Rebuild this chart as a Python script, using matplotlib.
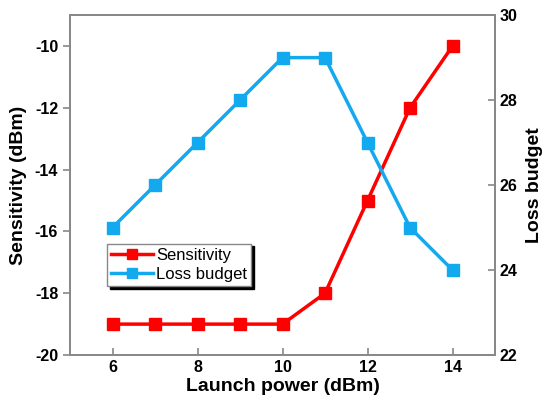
import matplotlib
matplotlib.use("Agg")
import matplotlib.pyplot as plt

plt.rcParams["font.family"] = ["Liberation Sans", "DejaVu Sans"]
plt.rcParams["axes.unicode_minus"] = False

# data
launch_power = [6, 7, 8, 9, 10, 11, 12, 13, 14]
sensitivity = [-19, -19, -19, -19, -19, -18, -15, -12, -10]
loss_budget = [25, 26, 27, 28, 29, 29, 27, 25, 24]

RED = "#ff0000"
BLUE = "#12a9ef"
GREY = "#888888"

fig = plt.figure(figsize=(5.47, 4.09), dpi=100)
ax = fig.add_axes([0.128, 0.132, 0.777, 0.831])
ax2 = ax.twinx()

l1, = ax.plot(launch_power, sensitivity, color=RED, lw=2.5, marker="s",
              ms=8, label="Sensitivity")
l2, = ax2.plot(launch_power, loss_budget, color=BLUE, lw=2.5, marker="s",
               ms=8, label="Loss budget")

ax.set_xlim(5, 15)
ax.set_ylim(-20, -9)
ax2.set_ylim(22, 30)
ax.set_xticks([6, 8, 10, 12, 14])
ax.set_yticks([-20, -18, -16, -14, -12, -10])
ax2.set_yticks([22, 24, 26, 28, 30])

for a in (ax, ax2):
    for s in a.spines.values():
        s.set_color(GREY)
        s.set_linewidth(1.3)

ax.tick_params(axis="y", direction="out", color=GREY, length=5, width=1.2)
ax.tick_params(axis="x", direction="in", color=GREY, length=5, width=1.2)
ax2.tick_params(axis="y", direction="in", color=GREY, length=5, width=1.2)
for a in (ax, ax2):
    for lab in a.get_xticklabels() + a.get_yticklabels():
        lab.set_fontweight("bold")
        lab.set_fontsize(11.5)

ax.set_xlabel("Launch power (dBm)", fontsize=14, fontweight="bold", labelpad=2)
ax.set_ylabel("Sensitivity (dBm)", fontsize=14, fontweight="bold", labelpad=6)
ax2.set_ylabel("Loss budget", fontsize=14, fontweight="bold", labelpad=6)

leg = ax.legend(handles=[l1, l2], loc="upper left", bbox_to_anchor=(0.087, 0.328),
                fontsize=12, frameon=True, fancybox=False,
                shadow={"color": "black", "alpha": 1.0},
                borderpad=0.25, handlelength=2.5, handletextpad=0.2,
                labelspacing=0.25, borderaxespad=0, markerscale=0.85)
leg.get_frame().set_edgecolor(GREY)
leg.get_frame().set_linewidth(1.0)
leg.get_frame().set_alpha(1.0)

fig.savefig("out.png", dpi=100)
